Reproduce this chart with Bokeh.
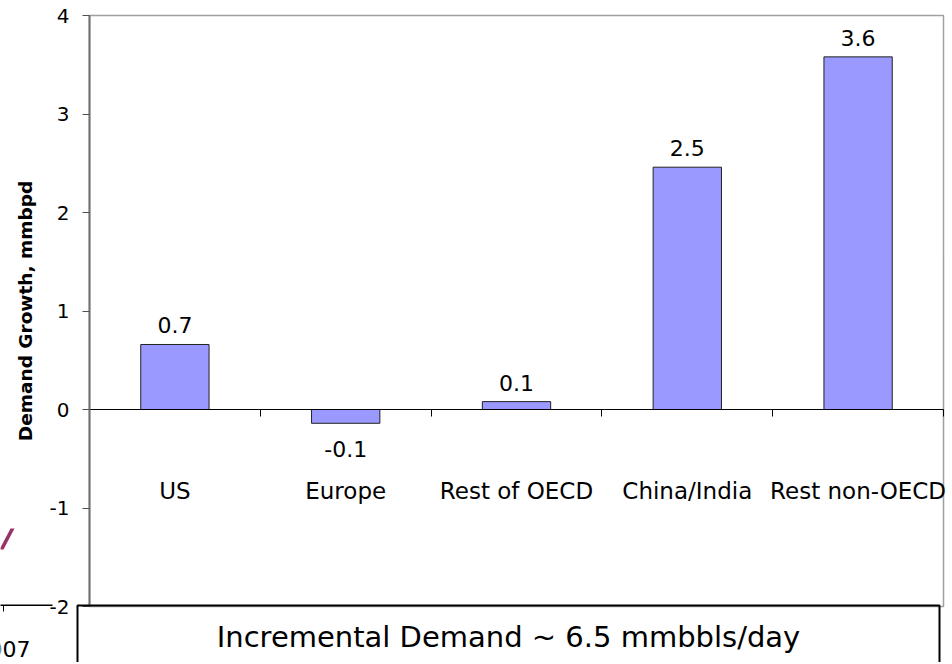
from bokeh.plotting import figure
from bokeh.models import (ColumnDataSource, LinearAxis, FixedTicker, Range1d,
                          BoxAnnotation, Label, PolyAnnotation)
from bokeh.embed import file_html
from bokeh.resources import INLINE
from bokeh.core.properties import value

# ---- data ----
categories = ["US", "Europe", "Rest of OECD", "China/India", "Rest non-OECD"]
growth = [0.66, -0.14, 0.08, 2.46, 3.58]
value_labels = ["0.7", "-0.1", "0.1", "2.5", "3.6"]
y_ticks = [-2, -1, 0, 1, 2, 3, 4]
y_tick_labels = ["-2", "-1", "0", "1", "2", "3", "4"]
y_title = "Demand Growth, mmbpd"
box_title = "Incremental Demand ~ 6.5 mmbbls/day"
fragment_text = "2007"

FONT = "DejaVu Sans"

# ---- layout (pixels on the canvas) ----
W, H = 948, 662
PLOT_L, PLOT_R, PLOT_T, PLOT_B = 89, 943, 15, 606

positions = [i + 0.5 for i in range(len(categories))]
boundaries = list(range(len(categories) + 1))
x0, x1 = 0, len(categories)
y0, y1 = min(y_ticks), max(y_ticks)

# the frame covers the whole canvas; the chart area is placed inside it
sx = (PLOT_R - PLOT_L) / (x1 - x0)
sy = (PLOT_B - PLOT_T) / (y1 - y0)
x_range = Range1d(x0 - PLOT_L / sx, x1 + (W - PLOT_R) / sx)
y_range = Range1d(y0 - (H - PLOT_B) / sy, y1 + PLOT_T / sy)

src = ColumnDataSource(dict(
    x=positions,
    top=growth,
    lab=value_labels,
    off=[-19 if g >= 0 else 26 for g in growth],
))

p = figure(width=W, height=H, output_backend="svg", toolbar_location=None,
           x_range=x_range, y_range=y_range,
           x_axis_location=None, y_axis_location="left",
           min_border_left=0, min_border_right=0, min_border_top=0,
           min_border_bottom=0)
p.background_fill_color = "white"
p.border_fill_color = "white"
p.outline_line_color = None
p.xgrid.visible = False
p.ygrid.visible = False

# chart area border (top / right in light grey)
p.quad(left=x0, right=x1, bottom=y0, top=y1, fill_color=None,
       line_color="#a0a0a0", line_width=1.5)

# y axis, placed at the chart's left edge
ya = p.yaxis[0]
ya.fixed_location = x0
ya.bounds = (y0, y1)
ya.ticker = FixedTicker(ticks=y_ticks)
ya.major_label_overrides = {t: s for t, s in zip(y_ticks, y_tick_labels)}
ya.axis_line_color = "#707070"
ya.axis_line_width = 2
ya.major_tick_line_color = "#505050"
ya.major_tick_out = 7
ya.major_tick_in = 0
ya.minor_tick_line_color = None
ya.major_label_text_font = FONT
ya.major_label_text_font_size = "20px"
ya.major_label_text_color = "black"
ya.major_label_standoff = 13
ya.axis_label = y_title
ya.axis_label_text_font = FONT
ya.axis_label_text_font_size = "18.5px"
ya.axis_label_text_font_style = "bold"
ya.axis_label_text_color = "black"
ya.axis_label_standoff = 11

# zero line with category boundary ticks
zero_axis = LinearAxis(fixed_location=0, bounds=(x0, x1),
                       ticker=FixedTicker(ticks=boundaries),
                       axis_line_color="black", axis_line_width=1,
                       major_tick_line_color="black", major_tick_out=7,
                       major_tick_in=0, minor_tick_line_color=None,
                       major_label_text_color=None)
p.add_layout(zero_axis, "below")

# category labels
cat_axis = LinearAxis(fixed_location=0, ticker=FixedTicker(ticks=positions),
                      major_label_overrides={pos: c for pos, c in zip(positions, categories)},
                      axis_line_color=None, major_tick_line_color=None,
                      minor_tick_line_color=None, major_label_standoff=62,
                      major_label_text_font=FONT, major_label_text_font_size="23px",
                      major_label_text_color="black")
p.add_layout(cat_axis, "below")

# bars
p.vbar(x="x", top="top", bottom=0, width=0.4, source=src,
       fill_color="#9999FF", line_color="#222222", line_width=1)

# data labels
p.text(x="x", y="top", text="lab", y_offset="off", source=src,
       text_align="center", text_baseline="middle",
       text_font=value(FONT), text_font_size="22px", text_color="black")

# bottom title box (canvas units, y measured from top)
box = BoxAnnotation(left=77, right=939, top=605, bottom=700,
                    left_units="canvas", right_units="canvas",
                    top_units="canvas", bottom_units="canvas",
                    fill_alpha=0, line_color="black", line_alpha=1,
                    line_width=2)
p.add_layout(box)
p.add_layout(Label(x=508, y=636, x_units="canvas", y_units="canvas",
                   text=box_title, text_align="center", text_baseline="middle",
                   text_font=FONT, text_font_size="29px", text_color="black"))

# fragments of a neighbouring chart at the left edge
frag_line = BoxAnnotation(left=-10, right=52, top=604, bottom=605.5,
                          left_units="canvas", right_units="canvas",
                          top_units="canvas", bottom_units="canvas",
                          fill_color="black", fill_alpha=1, line_alpha=0)
p.add_layout(frag_line)
frag_tick = BoxAnnotation(left=2.5, right=3.5, top=605, bottom=611,
                          left_units="canvas", right_units="canvas",
                          top_units="canvas", bottom_units="canvas",
                          fill_color="black", fill_alpha=1, line_alpha=0)
p.add_layout(frag_tick)
p.add_layout(PolyAnnotation(xs=[-1, 3, 14, 10], ys=[549, 549, 528, 528],
                            xs_units="canvas", ys_units="canvas",
                            fill_color="#993366", fill_alpha=1, line_alpha=0))
p.add_layout(Label(x=30, y=648, x_units="canvas", y_units="canvas",
                   text=fragment_text, text_align="right", text_baseline="middle",
                   text_font=FONT, text_font_size="22px", text_color="black"))

open("out.html", "w").write(file_html(p, INLINE))
